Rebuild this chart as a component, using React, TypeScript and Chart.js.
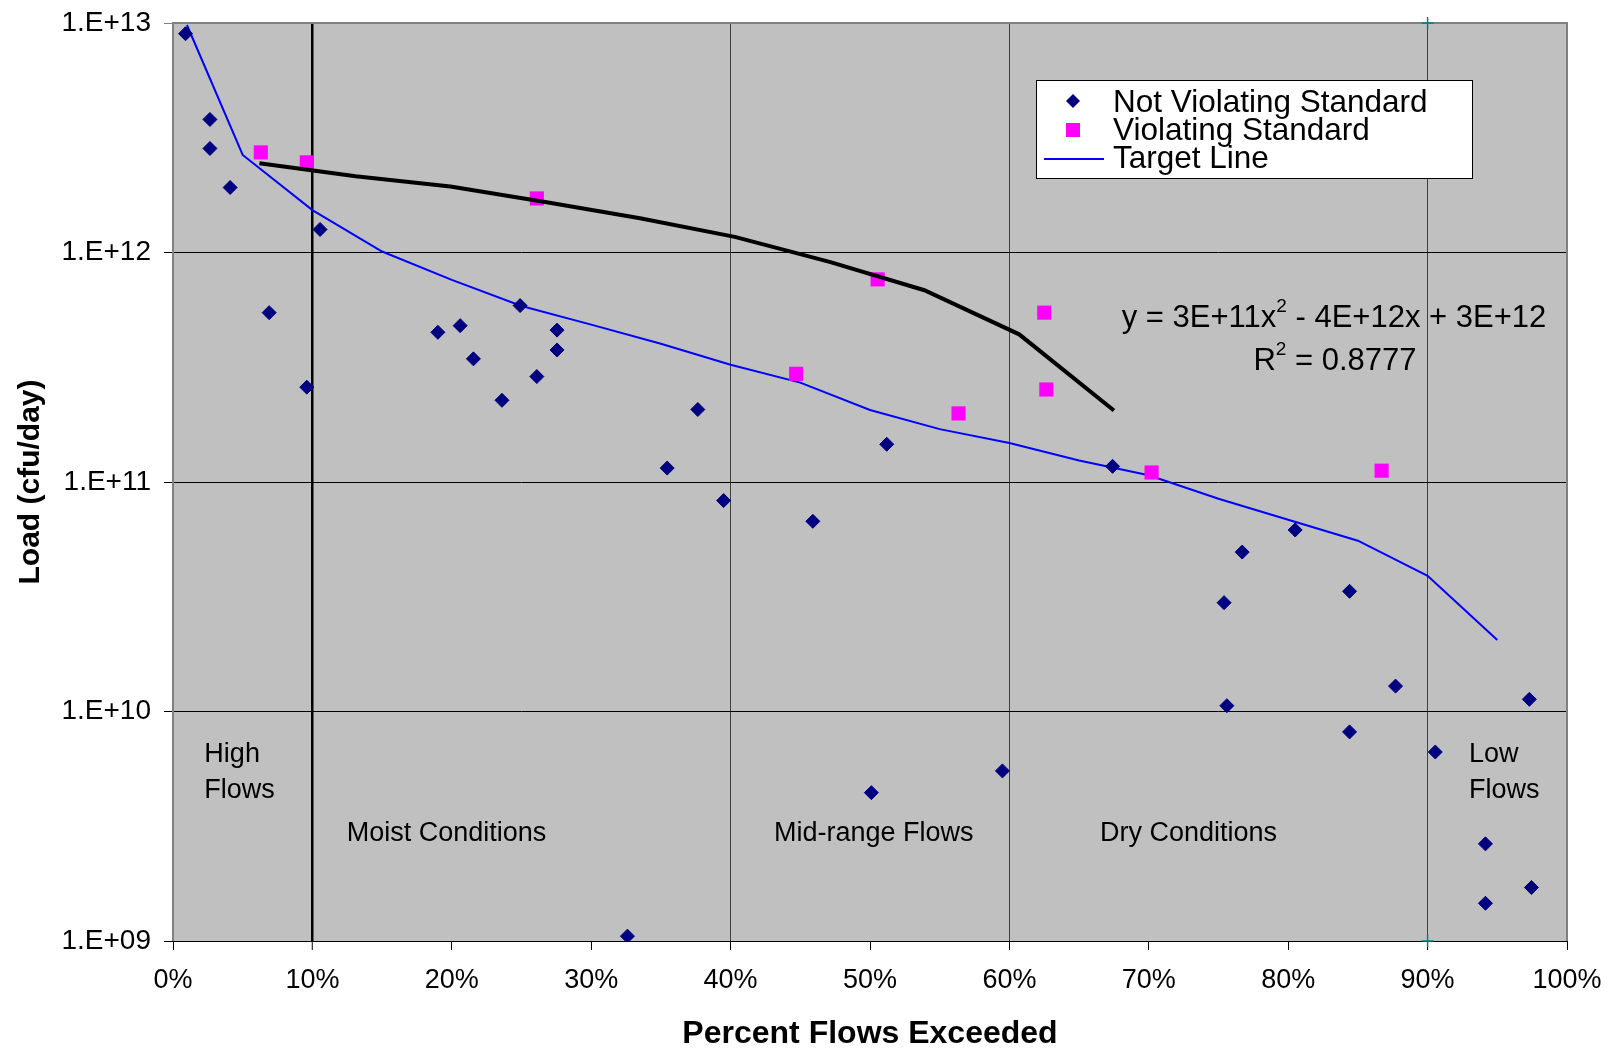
import React, { useEffect, useRef } from 'react';
import { Chart, registerables } from 'chart.js';

Chart.register(...registerables);

// ---------- data ----------
const notViolatingX = [0.9, 2.65, 2.65, 4.1, 10.55, 6.9, 9.6, 19.0, 20.6, 21.55, 23.6, 24.9, 26.1, 27.55, 27.55, 32.6, 35.45, 37.65, 39.5, 45.9, 50.1, 51.2, 59.5, 67.4, 75.4, 75.6, 76.7, 80.5, 84.4, 84.4, 87.7, 90.55, 94.15, 94.15, 97.3, 97.45];
const notViolatingY = [8.98e12, 3.8e12, 2.84e12, 1.92e12, 1.26e12, 5.47e11, 2.59e11, 4.49e11, 4.8e11, 3.44e11, 2.27e11, 5.87e11, 2.88e11, 4.59e11, 3.76e11, 1.05e9, 1.15e11, 2.07e11, 8.3e10, 6.74e10, 4.43e9, 1.46e11, 5.51e9, 1.17e11, 2.98e10, 1.06e10, 4.95e10, 6.18e10, 3.34e10, 8.15e9, 1.29e10, 6.66e9, 2.65e9, 1.46e9, 1.13e10, 1.71e9];

const violatingX = [6.3, 9.6, 26.1, 44.7, 50.55, 56.35, 62.5, 62.65, 70.2, 86.7];
const violatingY = [2.73e12, 2.47e12, 1.72e12, 2.96e11, 7.64e11, 1.99e11, 5.47e11, 2.53e11, 1.1e11, 1.12e11];

const targetX = [1, 5, 10, 15, 20, 25, 30, 35, 40, 45, 50, 55, 60, 65, 70, 75, 80, 85, 90, 95];
const targetY = [9.8e12, 2.66e12, 1.53e12, 1.01e12, 7.6e11, 5.85e11, 4.85e11, 4.0e11, 3.24e11, 2.71e11, 2.06e11, 1.7e11, 1.48e11, 1.24e11, 1.07e11, 8.45e10, 6.85e10, 5.55e10, 3.9e10, 2.05e10];

const trendX = [6.2, 13.1, 19.9, 26.7, 33.5, 40.3, 47.1, 53.9, 60.7, 67.5];
const trendY = [2.45e12, 2.15e12, 1.94e12, 1.66e12, 1.41e12, 1.17e12, 9.1e11, 6.85e11, 4.4e11, 2.05e11];

const markerX = [90, 90];
const markerY = [1e13, 1e9];

const xTicks = [0, 10, 20, 30, 40, 50, 60, 70, 80, 90, 100];
const yTicks = [1e9, 1e10, 1e11, 1e12, 1e13];

const legendLabels = ['Not Violating Standard', 'Violating Standard', 'Target Line'];
const regionLabels = ['High', 'Flows', 'Moist Conditions', 'Mid-range Flows', 'Dry Conditions', 'Low', 'Flows'];
const equationParts = ['y = 3E+11x', '2', ' - 4E+12x + 3E+12'];
const r2Parts = ['R', '2', ' = 0.8777'];

// ---------- layout / style ----------
const FONT = '"Liberation Sans", Arial, sans-serif';
const W = 1612;
const H = 1051;
// anchor positions for region labels in data space (percent, load)
const regionPos = [
  [2.25, 6.04e9], [2.25, 4.21e9], [12.46, 2.74e9], [43.11, 2.74e9], [66.5, 2.74e9], [92.97, 6.04e9], [92.97, 4.21e9],
];

const bgPlugin = {
  id: 'bgPlugin',
  beforeDraw(chart: any) {
    const { ctx, chartArea: a } = chart;
    ctx.save();
    ctx.fillStyle = '#ffffff';
    ctx.fillRect(0, 0, chart.width, chart.height);
    ctx.fillStyle = '#C0C0C0';
    ctx.fillRect(a.left, a.top, a.right - a.left, a.bottom - a.top);
    ctx.restore();
  },
  beforeDatasetsDraw(chart: any) {
    const { ctx, chartArea: a } = chart;
    ctx.save();
    ctx.strokeStyle = '#808080';
    ctx.lineWidth = 2;
    ctx.beginPath();
    ctx.moveTo(a.left, a.bottom);
    ctx.lineTo(a.left, a.top);
    ctx.lineTo(a.right, a.top);
    ctx.lineTo(a.right, a.bottom);
    ctx.stroke();
    ctx.strokeStyle = '#000';
    ctx.lineWidth = 1;
    ctx.beginPath();
    ctx.moveTo(a.left - 1, Math.round(a.bottom) + 0.5);
    ctx.lineTo(a.right + 1, Math.round(a.bottom) + 0.5);
    ctx.stroke();
    ctx.restore();
  },
  afterDraw(chart: any) {
    const { ctx, scales } = chart;
    const xs = scales.x;
    const ys = scales.y;
    ctx.save();
    // region labels
    ctx.fillStyle = '#000';
    ctx.font = `27px ${FONT}`;
    ctx.textAlign = 'left';
    ctx.textBaseline = 'alphabetic';
    regionLabels.forEach((t, i) => {
      const [px, py] = regionPos[i];
      ctx.fillText(t, xs.getPixelForValue(px), ys.getPixelForValue(py));
    });

    // equation + R^2, centered
    const drawSup = (parts: string[], cx: number, base: number) => {
      const big = `31px ${FONT}`;
      const small = `19px ${FONT}`;
      ctx.font = big;
      const w0 = ctx.measureText(parts[0]).width;
      const w2 = ctx.measureText(parts[2]).width;
      ctx.font = small;
      const w1 = ctx.measureText(parts[1]).width;
      let x = cx - (w0 + w1 + w2) / 2;
      ctx.font = big;
      ctx.fillText(parts[0], x, base);
      x += w0;
      ctx.font = small;
      ctx.fillText(parts[1], x, base - 15);
      x += w1;
      ctx.font = big;
      ctx.fillText(parts[2], x, base);
    };
    drawSup(equationParts, 1334, 327);
    drawSup(r2Parts, 1335, 370);

    // legend box
    const lx = 1036, ly = 80, lw = 436, lh = 98;
    ctx.fillStyle = '#ffffff';
    ctx.fillRect(lx, ly, lw, lh);
    ctx.strokeStyle = '#000';
    ctx.lineWidth = 1;
    ctx.strokeRect(lx + 0.5, ly + 0.5, lw, lh);
    const baselines = [111.5, 139.5, 167.5];
    const mx = 1073;
    // diamond
    ctx.fillStyle = '#000080';
    ctx.beginPath();
    const dy = 101;
    ctx.moveTo(mx - 7, dy);
    ctx.lineTo(mx, dy - 7);
    ctx.lineTo(mx + 7, dy);
    ctx.lineTo(mx, dy + 7);
    ctx.closePath();
    ctx.fill();
    // square
    ctx.fillStyle = '#FF00FF';
    ctx.fillRect(mx - 7, 130 - 7, 14, 14);
    // line
    ctx.strokeStyle = '#0000FF';
    ctx.lineWidth = 2;
    ctx.beginPath();
    ctx.moveTo(1044, 159);
    ctx.lineTo(1104, 159);
    ctx.stroke();
    ctx.fillStyle = '#000';
    ctx.font = `31.5px ${FONT}`;
    legendLabels.forEach((t, i) => ctx.fillText(t, 1113, baselines[i]));
    ctx.restore();
  },
};

const xGridColor = (c: any) => {
  const v = c.tick ? c.tick.value : -1;
  if (v === 10) return '#000000';
  if (v === 40 || v === 60 || v === 90) return '#404040';
  return 'rgba(0,0,0,0)';
};

export default function App() {
  const ref = useRef<HTMLCanvasElement>(null);
  useEffect(() => {
    document.body.style.margin = '0';
    document.body.style.overflow = 'hidden';
    const pts = (xa: number[], ya: number[]) => xa.map((x, i) => ({ x, y: ya[i] }));
    const chart = new Chart(ref.current as HTMLCanvasElement, {
      type: 'scatter',
      data: {
        datasets: [
          {
            label: 'Trend',
            data: pts(trendX, trendY),
            showLine: true,
            borderColor: '#000000',
            borderWidth: 4,
            pointRadius: 0,
            fill: false,
            order: 0,
          } as any,
          {
            label: legendLabels[0],
            data: pts(notViolatingX, notViolatingY),
            pointStyle: 'rectRot',
            pointRadius: 7,
            backgroundColor: '#000080',
            borderColor: '#000080',
            borderWidth: 1,
            order: 1,
          },
          {
            label: legendLabels[1],
            data: pts(violatingX, violatingY),
            pointStyle: 'rect',
            pointRadius: 10,
            backgroundColor: '#FF00FF',
            borderColor: '#FF00FF',
            borderWidth: 0,
            order: 1,
          },
          {
            label: legendLabels[2],
            data: pts(targetX, targetY),
            showLine: true,
            borderColor: '#0000FF',
            borderWidth: 2,
            pointRadius: 0,
            fill: false,
            order: 2,
          } as any,
          {
            label: 'markers',
            data: pts(markerX, markerY),
            pointStyle: 'cross',
            pointRadius: 6,
            borderColor: '#008080',
            borderWidth: 1.5,
            clip: false,
            order: 3,
          } as any,
        ],
      },
      options: {
        responsive: false,
        animation: false,
        devicePixelRatio: 1,
        layout: { padding: { left: 0, right: 45, top: 23, bottom: 0 } },
        plugins: { legend: { display: false }, tooltip: { enabled: false } },
        scales: {
          x: {
            type: 'linear',
            min: 0,
            max: 100,
            afterBuildTicks: (s: any) => {
              s.ticks = xTicks.map((v) => ({ value: v }));
            },
            afterFit: (s: any) => {
              s.height = 110;
            },
            ticks: {
              callback: (v: any) => `${v}%`,
              font: { family: FONT, size: 27, lineHeight: 2.237 },
              color: '#000',
              padding: 0,
              maxRotation: 0,
              autoSkip: false,
            },
            grid: {
              color: xGridColor,
              lineWidth: (c: any) => (c.tick && c.tick.value === 10 ? 2.5 : 1),
              tickColor: '#000',
              tickWidth: 1,
              tickLength: 9,
            },
            border: { display: true, color: '#000', width: 1 },
            title: {
              display: true,
              text: 'Percent Flows Exceeded',
              color: '#000',
              font: { family: FONT, size: 32, weight: 'bold', lineHeight: 1 },
              padding: { top: 0, bottom: 1 },
            },
          },
          y: {
            type: 'logarithmic',
            min: 1e9,
            max: 1e13,
            afterBuildTicks: (s: any) => {
              s.ticks = yTicks.map((v) => ({ value: v }));
            },
            afterFit: (s: any) => {
              s.width = 173;
            },
            ticks: {
              callback: (v: any) => {
                const e = Math.round(Math.log10(Number(v)));
                return `1.E+${e < 10 ? '0' + e : e}`;
              },
              font: { family: FONT, size: 28, lineHeight: 0.6 },
              color: '#000',
              padding: 13,
              autoSkip: false,
            },
            grid: {
              color: (c: any) => (c.tick && c.tick.value === 1e13 ? '#808080' : '#000000'),
              lineWidth: 1,
              tickLength: 9,
            },
            border: { display: false },
            title: {
              display: true,
              text: 'Load (cfu/day)',
              color: '#000',
              font: { family: FONT, size: 30, weight: 'bold', lineHeight: 1 },
              padding: { top: 16, bottom: 0 },
            },
          },
        },
      } as any,
      plugins: [bgPlugin],
    });
    return () => chart.destroy();
  }, []);
  return (
    <div style={{ width: W, height: H }}>
      <canvas ref={ref} width={W} height={H} style={{ display: 'block' }} />
    </div>
  );
}
